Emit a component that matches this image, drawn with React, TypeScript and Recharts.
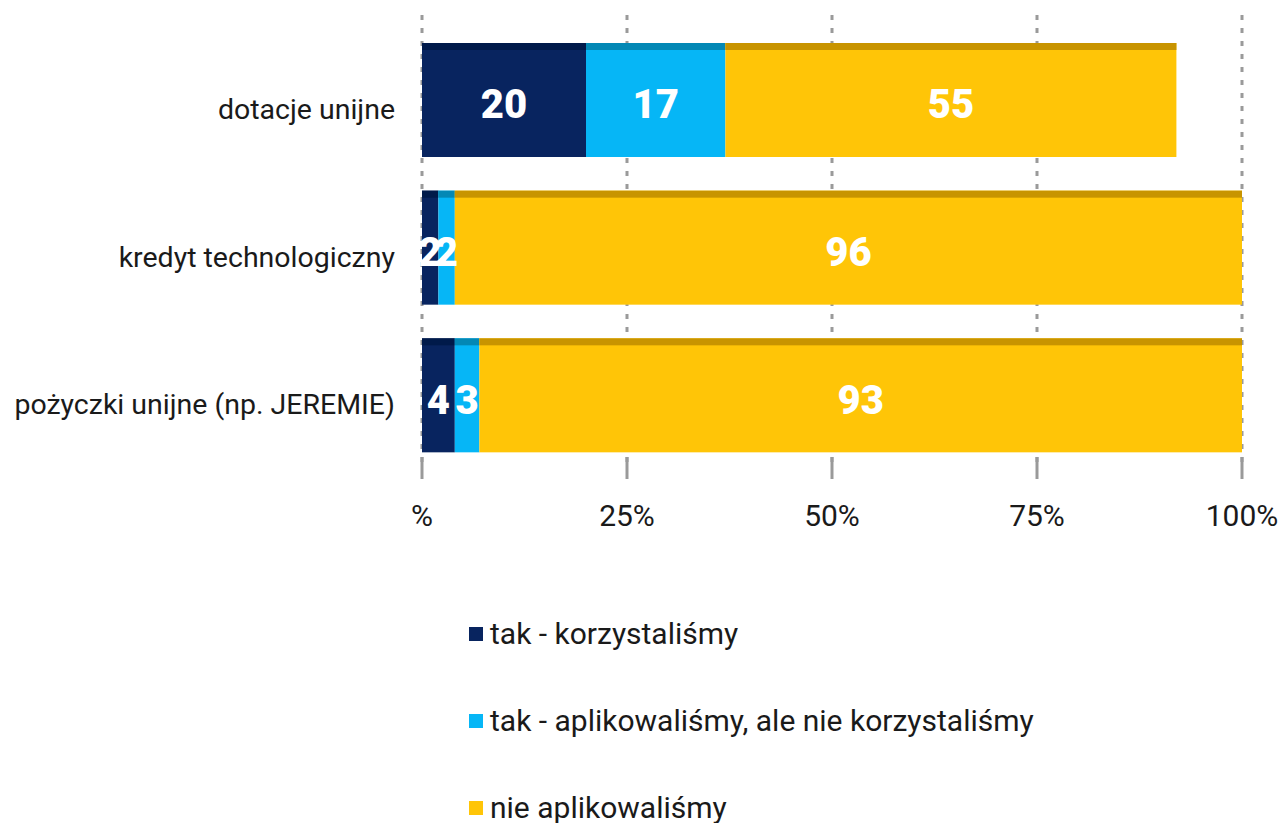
import { BarChart, Bar, XAxis, YAxis, CartesianGrid, LabelList, Legend } from 'recharts';

const categories = ['dotacje unijne', 'kredyt technologiczny', 'pożyczki unijne (np. JEREMIE)'];
const usedValues = [20, 2, 4];
const appliedValues = [17, 2, 3];
const notAppliedValues = [55, 96, 93];
const xTicks = [0, 25, 50, 75, 100];

const seriesInfo = [
  { key: 'used', name: 'tak - korzystaliśmy', color: '#08245F', strip: '#001A4A' },
  { key: 'applied', name: 'tak - aplikowaliśmy, ale nie korzystaliśmy', color: '#06B6F6', strip: '#0388B5' },
  { key: 'notApplied', name: 'nie aplikowaliśmy', color: '#FFC507', strip: '#C89400' },
];

const data = categories.map((name, i) => ({
  name,
  used: usedValues[i],
  applied: appliedValues[i],
  notApplied: notAppliedValues[i],
}));

const FONT = 'Roboto, "Noto Sans", sans-serif';

// segment with the darker strip along its top edge
const stripShape = (strip: string) => (props: any) => {
  const { x, y, width, height, fill } = props;
  if (!width || width <= 0) return <g />;
  return (
    <g>
      <rect x={x} y={y} width={width} height={height} fill={fill} />
      <rect x={x} y={y} width={width} height={7} fill={strip} />
    </g>
  );
};

const BottomTick = (props: any) => {
  const { x, y, payload } = props;
  const label = payload.value === 0 ? '%' : `${payload.value}%`;
  return (
    <g>
      <line x1={x} x2={x} y1={y - 12} y2={y + 10} stroke="#9a9a9a" strokeWidth={3} />
      <text x={x} y={y + 57} textAnchor="middle" fontSize={30} fill="#1a1a1a" fontFamily={FONT}>
        {label}
      </text>
    </g>
  );
};

const LeftTick = (props: any) => {
  const { x, y, payload } = props;
  return (
    <text x={x} y={y + 19} textAnchor="end" fontSize={28.5} fill="#1a1a1a" fontFamily={FONT}>
      {payload.value}
    </text>
  );
};

const LegendList = () => (
  <div style={{ fontFamily: FONT, fontSize: 30, color: '#1a1a1a' }}>
    {seriesInfo.map((s) => (
      <div key={s.key} style={{ display: 'flex', alignItems: 'center', height: 87 }}>
        <span style={{ width: 14, height: 14, background: s.color, display: 'inline-block', marginRight: 7 }} />
        <span>{s.name}</span>
      </div>
    ))}
  </div>
);

export default function App() {
  return (
    <div style={{ position: 'absolute', left: 0, top: 0 }}>
      <BarChart
        width={1279}
        height={823}
        data={data}
        layout="vertical"
        barCategoryGap={17}
        margin={{ top: 15, right: 37, bottom: 294, left: 0 }}
      >
        <CartesianGrid horizontal={false} stroke="#9a9a9a" strokeWidth={3} strokeDasharray="5 8" />
        <XAxis
          type="number"
          domain={[0, 100]}
          ticks={xTicks}
          axisLine={false}
          tickLine={false}
          tickSize={0}
          tickMargin={0}
          height={60}
          tick={<BottomTick />}
          interval={0}
        />
        <YAxis
          type="category"
          dataKey="name"
          width={422}
          axisLine={false}
          tickLine={false}
          tickSize={0}
          tickMargin={27}
          padding={{ top: 11, bottom: 0 }}
          tick={<LeftTick />}
        />
        <Legend
          layout="horizontal"
          verticalAlign="middle"
          align="center"
          wrapperStyle={{ top: 590, left: 469, width: 760 }}
          content={<LegendList />}
        />
        {seriesInfo.map((s) => (
          <Bar
            key={s.key}
            dataKey={s.key}
            name={s.name}
            stackId="a"
            fill={s.color}
            shape={stripShape(s.strip)}
            isAnimationActive={false}
          >
            <LabelList
              dataKey={s.key}
              position="center"
              fill="#ffffff"
              fontSize={40}
              fontWeight={900}
              fontFamily={FONT}
              dy={4}
            />
          </Bar>
        ))}
      </BarChart>
    </div>
  );
}
